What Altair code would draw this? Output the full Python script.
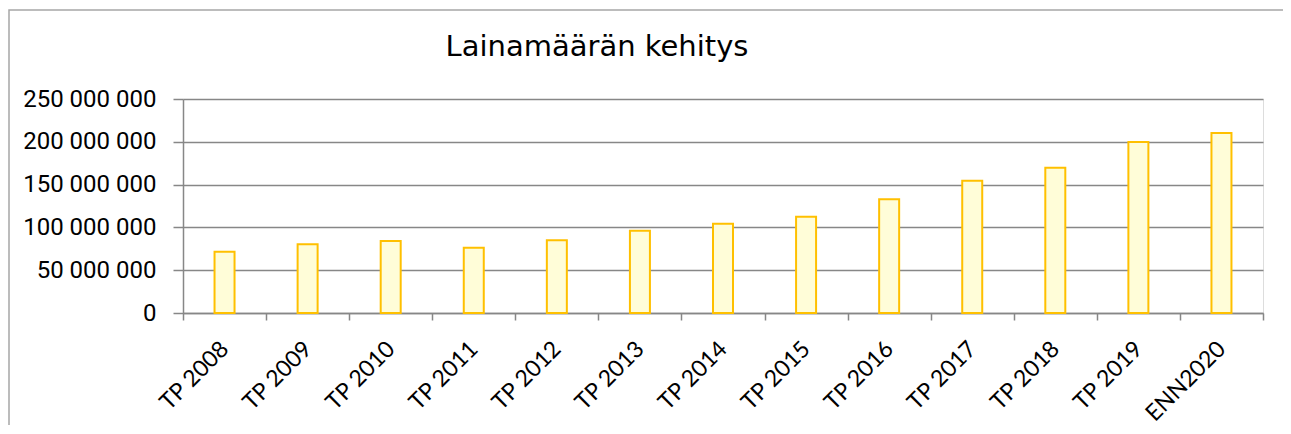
import altair as alt
import pandas as pd

categories = ["TP 2008", "TP 2009", "TP 2010", "TP 2011", "TP 2012", "TP 2013", "TP 2014",
              "TP 2015", "TP 2016", "TP 2017", "TP 2018", "TP 2019", "ENN2020"]
values = [71_600_000, 80_200_000, 84_000_000, 76_300_000, 84_900_000, 96_200_000, 104_400_000,
          112_500_000, 132_800_000, 154_600_000, 169_800_000, 199_800_000, 210_300_000]
y_ticks = [0, 50_000_000, 100_000_000, 150_000_000, 200_000_000, 250_000_000]

df = pd.DataFrame({"cat": categories, "val": values})

W, H = 1080, 214

bars = alt.Chart(df).mark_bar(
    size=20, fill="#FFFDD8", stroke="#FFC000", strokeWidth=2
).encode(
    x=alt.X("cat:N", sort=categories, title=None,
            scale=alt.Scale(paddingInner=0.0, paddingOuter=0.0),
            axis=alt.Axis(labelAngle=-45, labelAlign="right", labelBaseline="middle",
                          labelFont="Lato", labelFontSize=23, labelColor="#000000",
                          labelPadding=25, tickSize=7, tickBand="extent",
                          tickColor="#878787", tickWidth=1.5,
                          domainColor="#878787", domainWidth=1.5, grid=False)),
    y=alt.Y("val:Q", title=None,
            scale=alt.Scale(domain=[0, 250_000_000], nice=False),
            axis=alt.Axis(values=y_ticks,
                          labelExpr="replace(format(datum.value, ','), regexp(',', 'g'), ' ')",
                          labelFont="Roboto", labelFontSize=24, labelColor="#000000",
                          labelPadding=17, tickSize=10, tickColor="#878787", tickWidth=1.5,
                          domainColor="#878787", domainWidth=1.5,
                          grid=True, gridColor="#878787", gridWidth=1.5)),
)

border = alt.Chart(alt.Data(values=[{}])).mark_rect(
    fill=None, stroke="#A6A6A6", strokeWidth=1.5
).encode(
    x=alt.value(-174), x2=alt.value(W + 60),
    y=alt.value(-89), y2=alt.value(H + 160),
)

chart = alt.layer(border, bars).properties(
    width=W, height=H,
    title=alt.TitleParams("Lainamäärän kehitys", font="DejaVu Sans", fontSize=29,
                          fontWeight="normal", color="#000000", anchor="middle",
                          dx=-126, offset=0, dy=53),
    autosize=alt.AutoSizeParams(type="none"),
    padding={"left": 175, "top": 91, "right": 20, "bottom": 112},
).configure_view(stroke=None).configure(background="white")

chart.save("out.html", embed_options={"renderer": "svg", "actions": False})
